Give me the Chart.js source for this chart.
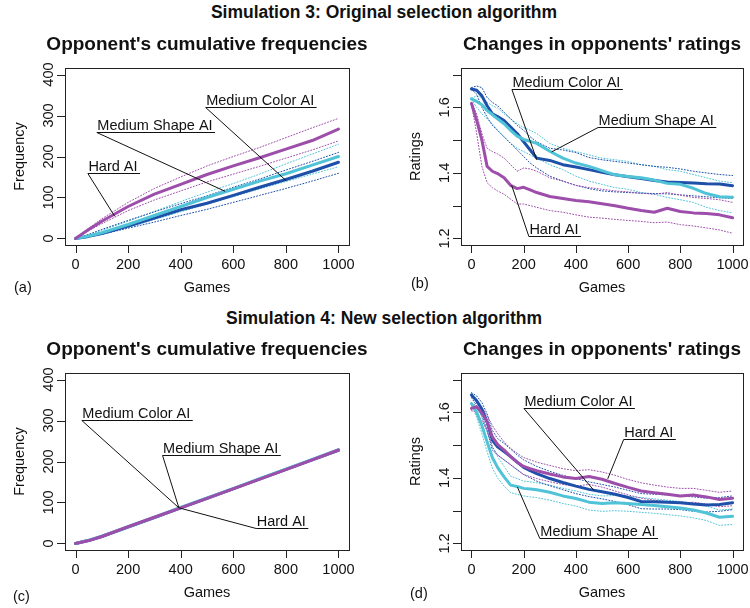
<!DOCTYPE html>
<html>
<head>
<meta charset="utf-8">
<title>Simulations 3 and 4</title>
<script src="https://cdn.jsdelivr.net/npm/chart.js"></script>
<style>
  body { margin: 0; background: #fff; width: 750px; height: 608px; position: relative; overflow: hidden;
         font-family: "Liberation Sans", Arial, sans-serif; }
  canvas { position: absolute; }
  .sup { position: absolute; left: 0; width: 768px; text-align: center; font-weight: bold;
         font-size: 17.5px; line-height: 17.5px; color: #111; white-space: nowrap; }
</style>
</head>
<body>
<div class="sup" style="top:4px">Simulation 3: Original selection algorithm</div>
<div class="sup" style="top:310px">Simulation 4: New selection algorithm</div>
<canvas id="chartA" width="375" height="305" style="left:0;top:0"></canvas>
<canvas id="chartB" width="375" height="305" style="left:375px;top:0"></canvas>
<canvas id="chartC" width="375" height="303" style="left:0;top:305px"></canvas>
<canvas id="chartD" width="375" height="303" style="left:375px;top:305px"></canvas>
<script>
// x values
const freqGames = [0, 50, 100, 200, 300, 400, 500, 600, 700, 800, 900, 1000];
const ratingGames = [0, 20, 40, 60, 80, 100, 125, 150, 175, 200, 225, 250, 300, 350, 400, 450, 500,
                     550, 600, 650, 700, 750, 800, 850, 900, 950, 1000];

// tick labels
const gameTicks = [0, 200, 400, 600, 800, 1000];
const freqTicks = [0, 100, 200, 300, 400];
const ratingTicks = [1.2, 1.3, 1.4, 1.5, 1.6, 1.7];
const ratingTickLabels = ['1.2', '', '1.4', '', '1.6', ''];

// (a) Simulation 3, cumulative frequencies
const a_hard    = [0, 22, 42, 78, 108, 132, 156, 177, 197, 218, 239, 267];
const a_hardHi  = [0, 25, 48, 88, 122, 150, 177, 200, 222, 246, 270, 293];
const a_hardLo  = [0, 19, 36, 68, 94, 116, 138, 157, 176, 196, 216, 238];
const a_color   = [0, 5, 12, 30, 50, 70, 86, 105, 125, 144, 164, 186];
const a_colorHi = [0, 10, 22, 44, 65, 85, 104, 125, 145, 167, 188, 210];
const a_colorLo = [0, 4, 10, 25, 40, 56, 71, 88, 105, 122, 140, 159];
const a_shape   = [0, 6, 14, 34, 56, 78, 100, 120, 140, 158, 179, 200];
const a_shapeHi = [0, 9, 20, 42, 66, 90, 113, 134, 157, 182, 206, 230];
const a_shapeLo = [0, 4, 10, 27, 46, 65, 84, 102, 121, 139, 157, 175];

// (b) Simulation 3, ratings
const b_hard    = [1.612, 1.56, 1.50, 1.42, 1.405, 1.398, 1.385, 1.362, 1.352, 1.356, 1.348, 1.34, 1.328, 1.322,
                   1.316, 1.312, 1.306, 1.300, 1.292, 1.285, 1.280, 1.292, 1.282, 1.278, 1.276, 1.272, 1.263];
const b_hardHi  = [1.615, 1.58, 1.52, 1.475, 1.465, 1.458, 1.445, 1.425, 1.405, 1.415, 1.412, 1.405, 1.385, 1.375,
                   1.362, 1.355, 1.350, 1.345, 1.342, 1.338, 1.335, 1.34, 1.332, 1.325, 1.322, 1.318, 1.31];
const b_hardLo  = [1.61, 1.52, 1.42, 1.37, 1.355, 1.345, 1.335, 1.32, 1.305, 1.305, 1.30, 1.295, 1.285, 1.28,
                   1.272, 1.265, 1.262, 1.258, 1.255, 1.252, 1.248, 1.25, 1.242, 1.238, 1.232, 1.226, 1.216];
const b_color   = [1.656, 1.652, 1.635, 1.605, 1.58, 1.572, 1.56, 1.54, 1.52, 1.495, 1.47, 1.445, 1.438, 1.425,
                   1.418, 1.41, 1.402, 1.394, 1.388, 1.383, 1.377, 1.372, 1.371, 1.369, 1.367, 1.366, 1.361];
const b_colorHi = [1.66, 1.665, 1.66, 1.63, 1.615, 1.605, 1.585, 1.565, 1.545, 1.53, 1.51, 1.495, 1.475, 1.47,
                   1.462, 1.447, 1.44, 1.435, 1.43, 1.425, 1.42, 1.417, 1.412, 1.405, 1.40, 1.395, 1.392];
const b_colorLo = [1.655, 1.64, 1.60, 1.57, 1.545, 1.53, 1.51, 1.49, 1.47, 1.45, 1.43, 1.415, 1.39, 1.375,
                   1.362, 1.352, 1.345, 1.342, 1.34, 1.338, 1.337, 1.336, 1.333, 1.33, 1.327, 1.324, 1.322];
const b_shape   = [1.626, 1.618, 1.608, 1.59, 1.578, 1.565, 1.55, 1.53, 1.512, 1.502, 1.496, 1.49, 1.466, 1.445,
                   1.43, 1.42, 1.407, 1.394, 1.389, 1.385, 1.378, 1.368, 1.365, 1.353, 1.337, 1.327, 1.326];
const b_shapeHi = [1.628, 1.635, 1.63, 1.615, 1.605, 1.598, 1.58, 1.565, 1.55, 1.538, 1.53, 1.52, 1.49, 1.475,
                   1.465, 1.455, 1.445, 1.44, 1.435, 1.425, 1.42, 1.41, 1.405, 1.395, 1.385, 1.375, 1.37];
const b_shapeLo = [1.624, 1.60, 1.58, 1.565, 1.55, 1.53, 1.51, 1.49, 1.475, 1.465, 1.455, 1.445, 1.425, 1.41,
                   1.39, 1.375, 1.365, 1.355, 1.35, 1.34, 1.335, 1.325, 1.318, 1.31, 1.295, 1.285, 1.278];

// (c) Simulation 4, cumulative frequencies
const c_hard  = [0, 7, 17, 41, 64, 87, 110, 133, 157, 180, 204, 228];
const c_color = [0, 7, 17, 40, 63, 87, 110, 134, 157, 181, 204, 227];
const c_shape = [0, 8, 18, 41, 64, 88, 111, 134, 158, 181, 205, 229];

// (d) Simulation 4, ratings
const d_hard    = [1.612, 1.617, 1.598, 1.571, 1.525, 1.502, 1.485, 1.465, 1.448, 1.435, 1.428, 1.422, 1.412, 1.403,
                   1.398, 1.404, 1.396, 1.383, 1.371, 1.36, 1.355, 1.35, 1.345, 1.348, 1.342, 1.334, 1.338];
const d_hardHi  = [1.615, 1.63, 1.615, 1.59, 1.56, 1.535, 1.51, 1.49, 1.475, 1.462, 1.455, 1.448, 1.438, 1.428,
                   1.422, 1.425, 1.418, 1.408, 1.395, 1.385, 1.378, 1.372, 1.368, 1.368, 1.362, 1.356, 1.36];
const d_hardLo  = [1.605, 1.6, 1.575, 1.545, 1.495, 1.47, 1.455, 1.44, 1.425, 1.41, 1.404, 1.398, 1.388, 1.38,
                   1.375, 1.38, 1.372, 1.36, 1.348, 1.338, 1.332, 1.328, 1.322, 1.326, 1.32, 1.312, 1.315];
const d_color   = [1.653, 1.635, 1.61, 1.57, 1.515, 1.495, 1.48, 1.465, 1.448, 1.432, 1.422, 1.413, 1.398, 1.386,
                   1.375, 1.365, 1.358, 1.35, 1.34, 1.328, 1.327, 1.326, 1.324, 1.32, 1.317, 1.319, 1.324];
const d_colorHi = [1.66, 1.65, 1.63, 1.595, 1.545, 1.52, 1.505, 1.488, 1.47, 1.455, 1.445, 1.435, 1.42, 1.408,
                   1.398, 1.388, 1.38, 1.372, 1.362, 1.352, 1.35, 1.348, 1.345, 1.342, 1.338, 1.34, 1.345];
const d_colorLo = [1.645, 1.62, 1.59, 1.545, 1.485, 1.47, 1.455, 1.44, 1.425, 1.41, 1.40, 1.39, 1.376, 1.364,
                   1.352, 1.343, 1.336, 1.328, 1.318, 1.306, 1.305, 1.305, 1.303, 1.298, 1.296, 1.298, 1.303];
const d_shape   = [1.627, 1.60, 1.56, 1.51, 1.462, 1.432, 1.403, 1.378, 1.374, 1.368, 1.366, 1.364, 1.356, 1.345,
                   1.337, 1.326, 1.322, 1.324, 1.322, 1.319, 1.316, 1.312, 1.308, 1.302, 1.293, 1.28, 1.283];
const d_shapeHi = [1.63, 1.615, 1.585, 1.54, 1.495, 1.465, 1.435, 1.405, 1.398, 1.39, 1.388, 1.385, 1.378, 1.368,
                   1.36, 1.35, 1.345, 1.346, 1.344, 1.34, 1.336, 1.332, 1.328, 1.322, 1.314, 1.302, 1.305];
const d_shapeLo = [1.622, 1.585, 1.535, 1.48, 1.43, 1.40, 1.375, 1.355, 1.35, 1.345, 1.342, 1.34, 1.332, 1.322,
                   1.314, 1.302, 1.298, 1.30, 1.298, 1.295, 1.292, 1.288, 1.284, 1.278, 1.27, 1.255, 1.258];

const HARD = '#9D4EAA', COLOR = '#1E50AA', SHAPE = '#50C3D7';
const FONT = '"Liberation Sans", Arial, sans-serif';

function pts(xs, ys) { return ys.map((y, i) => ({ x: xs[i], y: y })); }
function mean(label, xs, ys, color, order) {
  return { label: label, data: pts(xs, ys), borderColor: color, borderWidth: 3, order: order };
}
function band(label, xs, ys, color) {
  return { label: label, data: pts(xs, ys), borderColor: color, borderWidth: 1, borderDash: [1, 2], order: 10 };
}

// draws the R-like frame, axes, titles and the underlined labels
function rPlugin(p) {
  return {
    id: 'rStyle',
    afterDraw(chart) {
      const ctx = chart.ctx, a = chart.chartArea, xs = chart.scales.x, ys = chart.scales.y;
      const L = Math.round(a.left), T = Math.round(a.top), R = Math.round(a.right), B = Math.round(a.bottom);
      ctx.save();
      ctx.strokeStyle = '#222';
      ctx.lineWidth = 1;
      ctx.strokeRect(L + 0.5, T + 0.5, R - L, B - T);

      ctx.beginPath();
      gameTicks.forEach(v => {
        const px = Math.round(xs.getPixelForValue(v)) + 0.5;
        ctx.moveTo(px, B); ctx.lineTo(px, B + 8);
      });
      p.yTicks.forEach(v => {
        const py = Math.round(ys.getPixelForValue(v)) + 0.5;
        ctx.moveTo(L, py); ctx.lineTo(L - 8, py);
      });
      ctx.stroke();

      ctx.fillStyle = '#111';
      ctx.font = '14.5px ' + FONT;
      ctx.textAlign = 'center';
      ctx.textBaseline = 'alphabetic';
      gameTicks.forEach(v => ctx.fillText(String(v), xs.getPixelForValue(v), 269));
      p.yTicks.forEach((v, i) => {
        const lab = p.yLabels[i];
        if (!lab) return;
        ctx.save();
        ctx.translate(L - 12.5, ys.getPixelForValue(v));
        ctx.rotate(-Math.PI / 2);
        ctx.fillText(lab, 0, 0);
        ctx.restore();
      });
      ctx.fillText('Games', (L + R) / 2, 292);
      ctx.save();
      ctx.translate(L - 41, (T + B) / 2);
      ctx.rotate(-Math.PI / 2);
      ctx.fillText(p.yTitle, 0, 0);
      ctx.restore();

      ctx.textAlign = 'left';
      ctx.fillText(p.tag, p.tagX, p.tagY);

      ctx.font = 'bold 19px ' + FONT;
      ctx.textAlign = 'center';
      ctx.fillText(p.title, (L + R) / 2, 50);

      // labels with underline and leader line
      ctx.font = '14.5px ' + FONT;
      ctx.textAlign = 'left';
      ctx.lineWidth = 1;
      ctx.strokeStyle = '#111';
      p.notes.forEach(n => {
        const lx = xs.getPixelForValue(n.lx), ly = Math.round(ys.getPixelForValue(n.ly)) + 0.5;
        const tx = xs.getPixelForValue(n.tx), ty = ys.getPixelForValue(n.ty);
        const w = ctx.measureText(n.text).width;
        ctx.fillText(n.text, lx + 0.5, ly - 3);
        ctx.beginPath();
        ctx.moveTo(lx, ly); ctx.lineTo(lx + w + 3, ly);
        ctx.moveTo(lx, ly); ctx.lineTo(tx, ty);
        ctx.stroke();
      });
      ctx.restore();
    }
  };
}

function makePanel(id, datasets, yMin, yMax, bottomPad, p) {
  new Chart(document.getElementById(id), {
    type: 'line',
    data: { datasets: datasets },
    options: {
      responsive: false,
      animation: false,
      devicePixelRatio: 1,
      events: [],
      layout: { padding: { left: p.padL, top: 68, right: p.padR, bottom: bottomPad } },
      scales: {
        x: { type: 'linear', min: -40, max: 1040, display: false },
        y: { type: 'linear', min: yMin, max: yMax, display: false }
      },
      elements: {
        point: { radius: 0 },
        line: { tension: 0, borderJoinStyle: 'round', borderCapStyle: 'round' }
      },
      plugins: { legend: { display: false }, tooltip: { enabled: false } }
    },
    plugins: [rPlugin(p)]
  });
}

makePanel('chartA', [
  band('Hard AI upper', freqGames, a_hardHi, HARD),
  band('Hard AI lower', freqGames, a_hardLo, HARD),
  band('Medium Color AI upper', freqGames, a_colorHi, COLOR),
  band('Medium Color AI lower', freqGames, a_colorLo, COLOR),
  band('Medium Shape AI upper', freqGames, a_shapeHi, SHAPE),
  band('Medium Shape AI lower', freqGames, a_shapeLo, SHAPE),
  mean('Medium Color AI', freqGames, a_color, COLOR, 3),
  mean('Medium Shape AI', freqGames, a_shape, SHAPE, 2),
  mean('Hard AI', freqGames, a_hard, HARD, 1)
], -16, 416, 60, {
  padL: 65, padR: 26, yTicks: freqTicks, yLabels: freqTicks.map(String), yTitle: 'Frequency',
  title: "Opponent's cumulative frequencies", tag: '(a)', tagX: 14, tagY: 292,
  notes: [
    { text: 'Medium Color AI', lx: 495, ly: 320, tx: 801, ty: 141 },
    { text: 'Medium Shape AI', lx: 81, ly: 261, tx: 569, ty: 115 },
    { text: 'Hard AI', lx: 47, ly: 160, tx: 149, ty: 54 }
  ]
});

makePanel('chartB', [
  band('Hard AI upper', ratingGames, b_hardHi, HARD),
  band('Hard AI lower', ratingGames, b_hardLo, HARD),
  band('Medium Color AI upper', ratingGames, b_colorHi, COLOR),
  band('Medium Color AI lower', ratingGames, b_colorLo, COLOR),
  band('Medium Shape AI upper', ratingGames, b_shapeHi, SHAPE),
  band('Medium Shape AI lower', ratingGames, b_shapeLo, SHAPE),
  mean('Medium Color AI', ratingGames, b_color, COLOR, 3),
  mean('Medium Shape AI', ratingGames, b_shape, SHAPE, 2),
  mean('Hard AI', ratingGames, b_hard, HARD, 1)
], 1.18, 1.72, 60, {
  padL: 86, padR: 7, yTicks: ratingTicks, yLabels: ratingTickLabels, yTitle: 'Ratings',
  title: "Changes in opponents' ratings", tag: '(b)', tagX: 36, tagY: 288,
  notes: [
    { text: 'Medium Color AI', lx: 155, ly: 1.656, tx: 250, ty: 1.440 },
    { text: 'Medium Shape AI', lx: 485, ly: 1.541, tx: 307, ty: 1.464 },
    { text: 'Hard AI', lx: 220, ly: 1.206, tx: 154, ty: 1.362 }
  ]
});

makePanel('chartC', [
  mean('Medium Color AI', freqGames, c_color, COLOR, 3),
  mean('Medium Shape AI', freqGames, c_shape, SHAPE, 2),
  mean('Hard AI', freqGames, c_hard, HARD, 1)
], -16, 416, 58, {
  padL: 65, padR: 26, yTicks: freqTicks, yLabels: freqTicks.map(String), yTitle: 'Frequency',
  title: "Opponent's cumulative frequencies", tag: '(c)', tagX: 13, tagY: 296,
  notes: [
    { text: 'Medium Color AI', lx: 24, ly: 302, tx: 393, ty: 87 },
    { text: 'Medium Shape AI', lx: 331, ly: 216, tx: 393, ty: 87 },
    { text: 'Hard AI', lx: 687, ly: 37, tx: 393, ty: 87 }
  ]
});

makePanel('chartD', [
  band('Hard AI upper', ratingGames, d_hardHi, HARD),
  band('Hard AI lower', ratingGames, d_hardLo, HARD),
  band('Medium Color AI upper', ratingGames, d_colorHi, COLOR),
  band('Medium Color AI lower', ratingGames, d_colorLo, COLOR),
  band('Medium Shape AI upper', ratingGames, d_shapeHi, SHAPE),
  band('Medium Shape AI lower', ratingGames, d_shapeLo, SHAPE),
  mean('Medium Shape AI', ratingGames, d_shape, SHAPE, 3),
  mean('Medium Color AI', ratingGames, d_color, COLOR, 2),
  mean('Hard AI', ratingGames, d_hard, HARD, 1)
], 1.18, 1.72, 58, {
  padL: 86, padR: 7, yTicks: ratingTicks, yLabels: ratingTickLabels, yTitle: 'Ratings',
  title: "Changes in opponents' ratings", tag: '(d)', tagX: 35, tagY: 293,
  notes: [
    { text: 'Medium Color AI', lx: 201, ly: 1.613, tx: 469, ty: 1.362 },
    { text: 'Hard AI', lx: 583, ly: 1.519, tx: 522, ty: 1.397 },
    { text: 'Medium Shape AI', lx: 262, ly: 1.217, tx: 176, ty: 1.372 }
  ]
});
</script>
</body>
</html>
